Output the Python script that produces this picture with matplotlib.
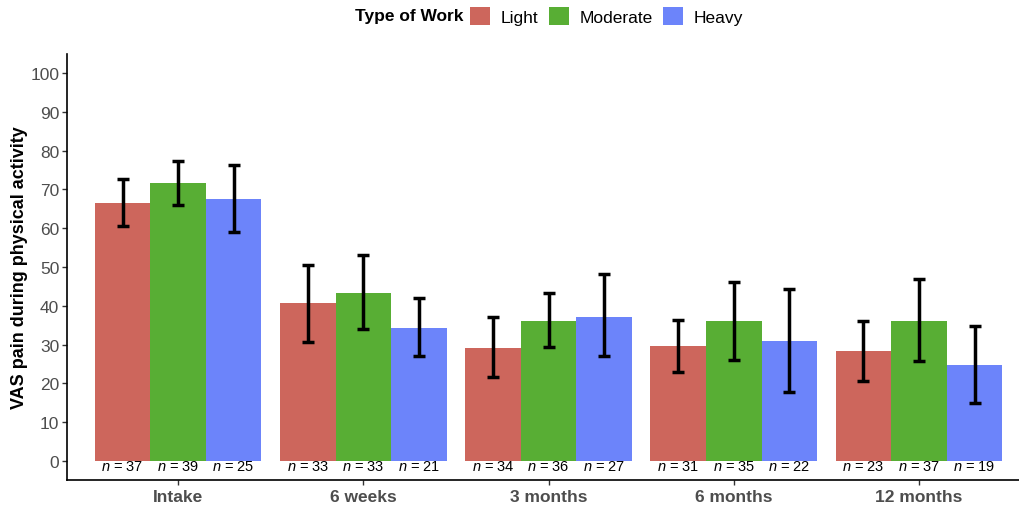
import numpy as np
import matplotlib.pyplot as plt
from matplotlib.patches import Patch

plt.rcParams['font.family'] = ['Liberation Sans', 'DejaVu Sans']
plt.rcParams['mathtext.fontset'] = 'custom'
plt.rcParams['mathtext.rm'] = 'Liberation Sans'
plt.rcParams['mathtext.it'] = 'Liberation Sans:italic'

timepoints = ['Intake', '6 weeks', '3 months', '6 months', '12 months']
work_types = ['Light', 'Moderate', 'Heavy']
colors = ['#CD665C', '#58AE34', '#6C84FA']

# mean VAS pain per work type, with lower / upper CI bounds
means = {
    'Light':    [66.4, 40.6, 29.2, 29.7, 28.4],
    'Moderate': [71.6, 43.2, 36.2, 36.2, 36.2],
    'Heavy':    [67.4, 34.4, 37.2, 31.0, 24.8],
}
lower = {
    'Light':    [60.5, 30.7, 21.7, 23.0, 20.7],
    'Moderate': [65.9, 33.9, 29.5, 26.1, 25.8],
    'Heavy':    [58.9, 27.1, 27.1, 17.8, 15.0],
}
upper = {
    'Light':    [72.6, 50.6, 37.0, 36.4, 36.2],
    'Moderate': [77.3, 53.0, 43.4, 46.0, 46.8],
    'Heavy':    [76.2, 41.9, 48.3, 44.4, 34.9],
}
n_obs = {
    'Light':    [37, 33, 34, 31, 23],
    'Moderate': [39, 33, 36, 35, 37],
    'Heavy':    [25, 21, 27, 22, 19],
}

fig = plt.figure(figsize=(10.19, 5.06), dpi=100)
ax = fig.add_axes([0.0657, 0.0494, 0.9343, 0.842])

x = np.arange(len(timepoints))
width = 0.3
for i, wt in enumerate(work_types):
    pos = x + (i - 1) * width
    m = np.array(means[wt])
    lo = m - np.array(lower[wt])
    hi = np.array(upper[wt]) - m
    ax.bar(pos, m, width, color=colors[i], linewidth=0)
    ax.errorbar(pos, m, yerr=[lo, hi], fmt='none', ecolor='black',
                elinewidth=2.5, capsize=4.5, capthick=2.5, zorder=3)
    for xp, n in zip(pos, n_obs[wt]):
        ax.text(xp, -1.3, r'$\it{n}$ = ' + str(n), ha='center', va='center',
                fontsize=10.5, color='black')

ax.set_xlim(-0.6, 4.54)
ax.set_ylim(-4.9, 104.9)
ax.set_yticks(np.arange(0, 101, 10))
ax.set_xticks(x)
ax.set_xticklabels(timepoints, fontsize=12.5, fontweight='bold', color='#4D4D4D')
ax.tick_params(axis='y', labelsize=12.5, labelcolor='#4D4D4D', color='#333333',
               length=3.5, width=1, pad=2)
ax.tick_params(axis='x', color='#333333', length=3.5, width=1, pad=3)
ax.set_ylabel('VAS pain during physical activity', fontsize=13,
              fontweight='bold', labelpad=1.5)

for side in ['top', 'right']:
    ax.spines[side].set_visible(False)
for side in ['left', 'bottom']:
    ax.spines[side].set_linewidth(1.2)

# legend across the top, title set to the left of the keys
fig.text(0.455, 0.967, 'Type of Work', ha='right', va='center',
         fontsize=12.5, fontweight='bold')
handles = [Patch(facecolor=c, edgecolor='none') for c in colors]
fig.legend(handles, work_types, loc='center left', bbox_to_anchor=(0.46, 0.967),
           ncol=3, frameon=False, fontsize=12.5, handlelength=1.15,
           handleheight=1.2, handletextpad=0.6, columnspacing=0.6,
           borderaxespad=0, borderpad=0.1)

fig.savefig('out.png', dpi=100)
